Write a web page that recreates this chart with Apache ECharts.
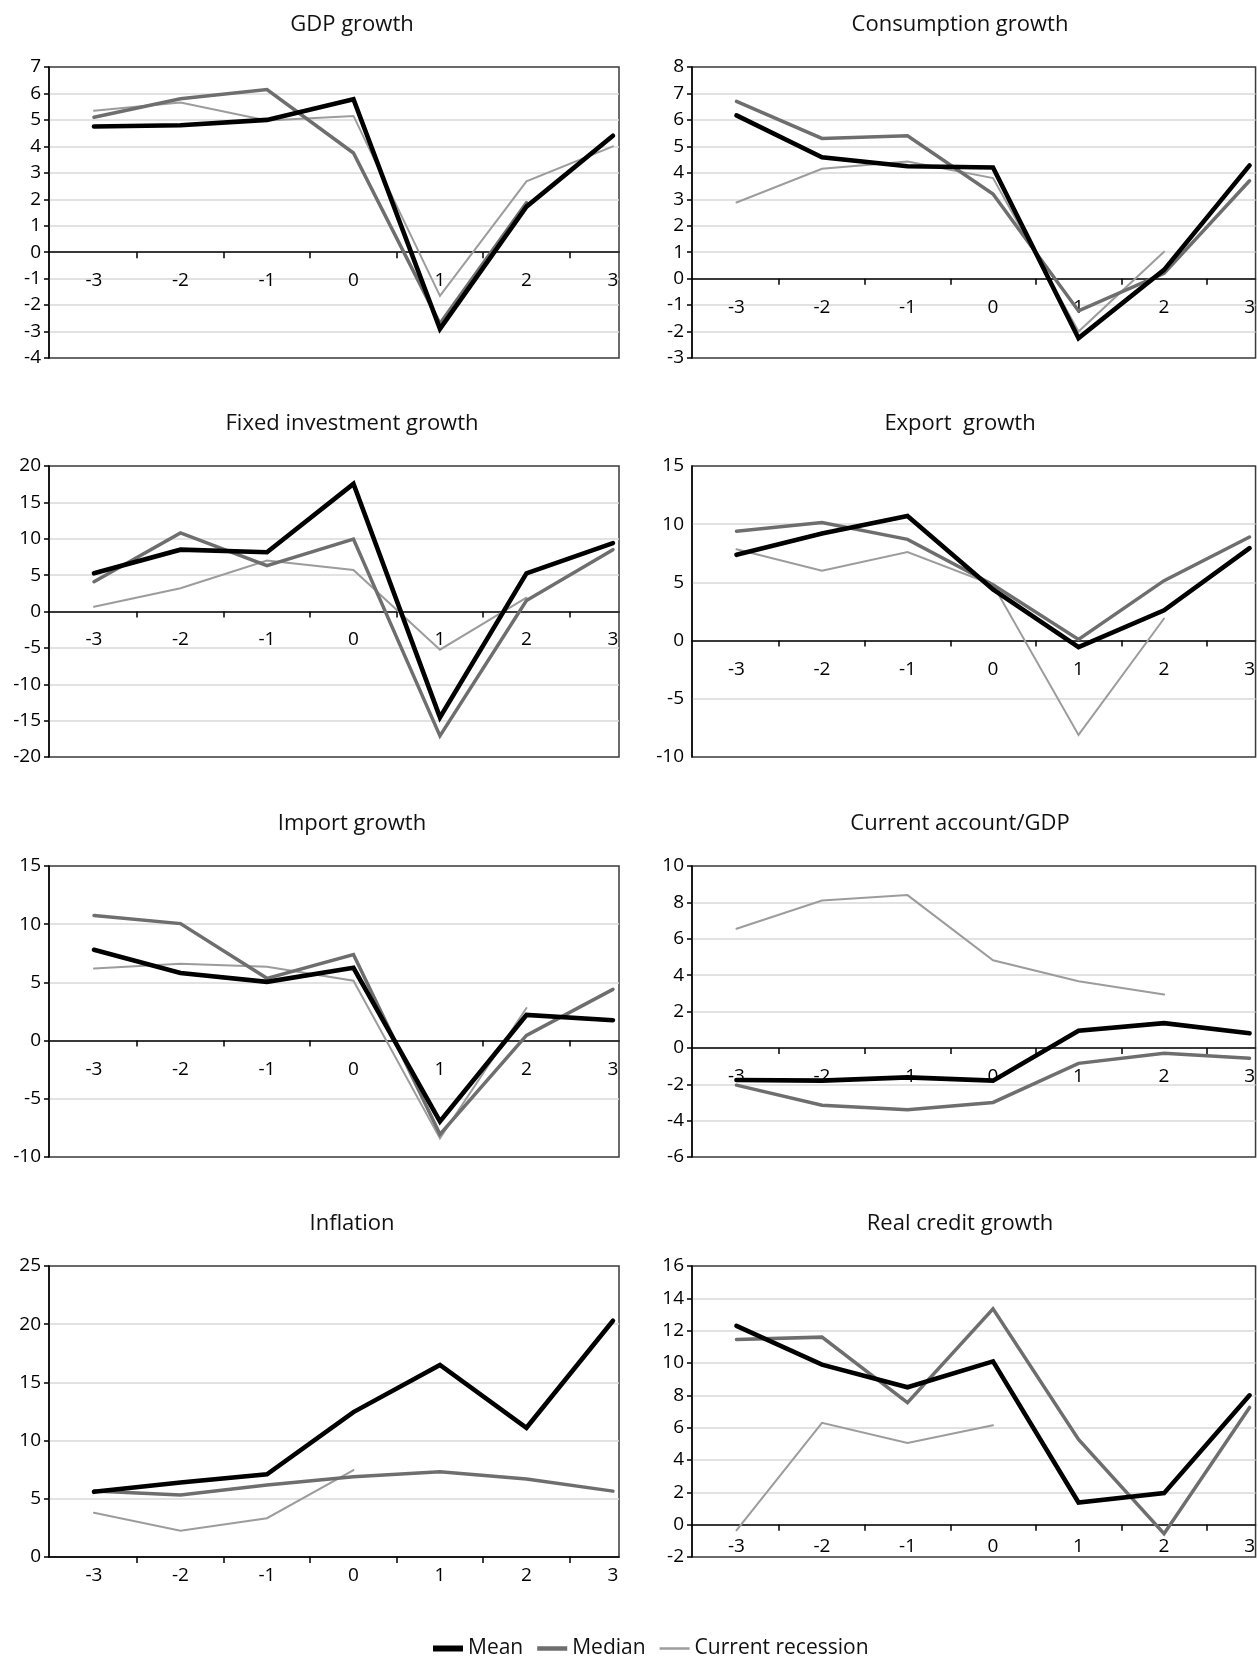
<!DOCTYPE html>
<html>
<head>
<meta charset="utf-8">
<script src="https://cdn.jsdelivr.net/npm/echarts@6/dist/echarts.min.js"></script>
<style>
html,body{margin:0;padding:0;background:#fff;}
#chart{width:1258px;height:1658px;}
</style>
</head>
<body>
<div id="chart"></div>
<script>
// ---- data ----
const periods = [-3, -2, -1, 0, 1, 2, 3];
const seriesNames = ['Mean', 'Median', 'Current recession'];
const panelTitles = ['GDP growth', 'Consumption growth', 'Fixed investment growth', 'Export  growth',
  'Import growth', 'Current account/GDP', 'Inflation', 'Real credit growth'];

const gdpMean    = [4.75, 4.8, 5.0, 5.78, -2.9, 1.72, 4.4];
const gdpMedian  = [5.1, 5.8, 6.15, 3.75, -2.7, 1.87, null];
const gdpCurrent = [5.35, 5.66, 4.98, 5.15, -1.65, 2.68, 4.0];

const consMean    = [6.17, 4.59, 4.25, 4.2, -2.25, 0.33, 4.28];
const consMedian  = [6.7, 5.3, 5.4, 3.2, -1.22, 0.2, 3.7];
const consCurrent = [2.88, 4.15, 4.43, 3.8, -2.0, 1.02, null];

const invMean    = [5.25, 8.5, 8.15, 17.55, -14.55, 5.25, 9.4];
const invMedian  = [4.1, 10.8, 6.3, 9.95, -17.1, 1.5, 8.5];
const invCurrent = [0.65, 3.2, 7.0, 5.7, -5.25, 1.9, null];

const expMean    = [7.37, 9.2, 10.7, 4.4, -0.57, 2.6, 7.95];
const expMedian  = [9.4, 10.15, 8.7, 4.8, 0.1, 5.15, 8.9];
const expCurrent = [7.85, 6.0, 7.6, 4.8, -8.1, 1.9, null];

const impMean    = [7.8, 5.8, 5.05, 6.25, -6.95, 2.2, 1.75];
const impMedian  = [10.75, 10.05, 5.35, 7.4, -8.05, 0.45, 4.4];
const impCurrent = [6.2, 6.6, 6.35, 5.15, -8.4, 2.8, null];

const caMean    = [-1.77, -1.8, -1.62, -1.8, 0.94, 1.36, 0.8];
const caMedian  = [-2.05, -3.15, -3.4, -3.0, -0.85, -0.3, -0.57];
const caCurrent = [6.55, 8.1, 8.4, 4.82, 3.66, 2.93, null];

const infMean    = [5.6, 6.4, 7.1, 12.45, 16.5, 11.1, 20.3];
const infMedian  = [5.66, 5.32, 6.18, 6.9, 7.33, 6.7, 5.66];
const infCurrent = [3.8, 2.25, 3.33, 7.47, null, null, null];

const credMean    = [12.3, 9.9, 8.5, 10.1, 1.37, 1.95, 8.0];
const credMedian  = [11.45, 11.6, 7.55, 13.35, 5.27, -0.56, 7.25];
const credCurrent = [-0.35, 6.3, 5.05, 6.15, null, null, null];

const panelData = [
  [gdpMean, gdpMedian, gdpCurrent],
  [consMean, consMedian, consCurrent],
  [invMean, invMedian, invCurrent],
  [expMean, expMedian, expCurrent],
  [impMean, impMedian, impCurrent],
  [caMean, caMedian, caCurrent],
  [infMean, infMedian, infCurrent],
  [credMean, credMedian, credCurrent]
];
// y-axis scales
const yMin = [-4, -3, -20, -10, -10, -6, 0, -2];
const yMax = [7, 8, 20, 15, 15, 10, 25, 16];
const yStep = [1, 1, 5, 5, 5, 2, 5, 2];
const xTickValues = [-2.5, -1.5, -0.5, 0.5, 1.5, 2.5];

// ---- layout ----
const FONT = '"Open Sans", "Noto Sans", sans-serif';
const colLeft = [49, 692];
const colTitleX = [347, 955];
const rowTop = [67, 466, 866, 1266];
const rowTitleY = [24, 423, 823, 1223];
const plotW = 570, plotH = 291;
const xLabelMargin = [19, 19, 19, 19, 19, 19, 9, 12];
const lineColors = ['#000000', '#6e6e6e', '#9c9c9c'];
const lineWidths = [4.6, 3.5, 2];
const legendIcons = ['path://M0,0H30V6H0Z', 'path://M0,0H30V4.5H0Z', 'path://M0,0H30V2.5H0Z'];

const grids = [], xAxes = [], yAxes = [], titles = [], series = [];
panelData.forEach((sets, p) => {
  const col = p % 2, row = Math.floor(p / 2);
  // move the category axis up to the zero line of the value scale
  const zeroOffset = -plotH * (0 - yMin[p]) / (yMax[p] - yMin[p]);
  grids.push({left: colLeft[col], top: rowTop[row], width: plotW, height: plotH,
    show: true, borderColor: '#3a3a3a', borderWidth: 1.5, backgroundColor: 'transparent'});
  titles.push({text: panelTitles[p], left: colTitleX[col], top: rowTitleY[row] - 15, textAlign: 'center',
    textStyle: {fontFamily: FONT, fontSize: 22, fontWeight: 'normal', color: '#111'}});
  xAxes.push({type: 'value', gridIndex: p, min: -3.52, max: 3.07, position: 'bottom', offset: zeroOffset,
    axisLine: {onZero: false, lineStyle: {color: '#000', width: 1.5}},
    axisTick: {show: true, length: 6, customValues: xTickValues, lineStyle: {color: '#000', width: 1.5}},
    axisLabel: {customValues: periods, fontFamily: FONT, fontSize: 19, color: '#000', margin: xLabelMargin[p],
      showMinLabel: true, showMaxLabel: true},
    splitLine: {show: false}});
  yAxes.push({type: 'value', gridIndex: p, min: yMin[p], max: yMax[p], interval: yStep[p], position: 'left',
    axisLine: {show: true, onZero: false, lineStyle: {color: '#000', width: 1.5}},
    axisTick: {show: p !== 3, length: 5, lineStyle: {color: '#000', width: 1.5}},
    axisLabel: {fontFamily: FONT, fontSize: 19, color: '#000', margin: 8},
    splitLine: {show: true, showMinLine: false, showMaxLine: false, lineStyle: {color: '#d9d9d9', width: 1.5}}});
  sets.forEach((vals, s) => {
    series.push({name: seriesNames[s], type: 'line', xAxisIndex: p, yAxisIndex: p,
      symbol: 'none', showSymbol: false, connectNulls: false, animation: false,
      z: 10 - s,
      color: lineColors[s],
      lineStyle: {color: lineColors[s], width: lineWidths[s], cap: 'round', join: 'miter'},
      data: periods.map((x, i) => [x, vals[i] == null ? '-' : vals[i]])});
  });
});

const chart = echarts.init(document.getElementById('chart'), null, {renderer: 'canvas'});
chart.setOption({
  animation: false,
  backgroundColor: '#ffffff',
  title: titles,
  grid: grids,
  xAxis: xAxes,
  yAxis: yAxes,
  legend: {
    data: seriesNames.map((n, i) => ({name: n, icon: legendIcons[i]})),
    left: 428, top: 1633, itemWidth: 30, itemHeight: 14, itemGap: 14, symbolKeepAspect: true,
    textStyle: {fontFamily: FONT, fontSize: 21, color: '#111'}
  },
  series: series
});
</script>
</body>
</html>
